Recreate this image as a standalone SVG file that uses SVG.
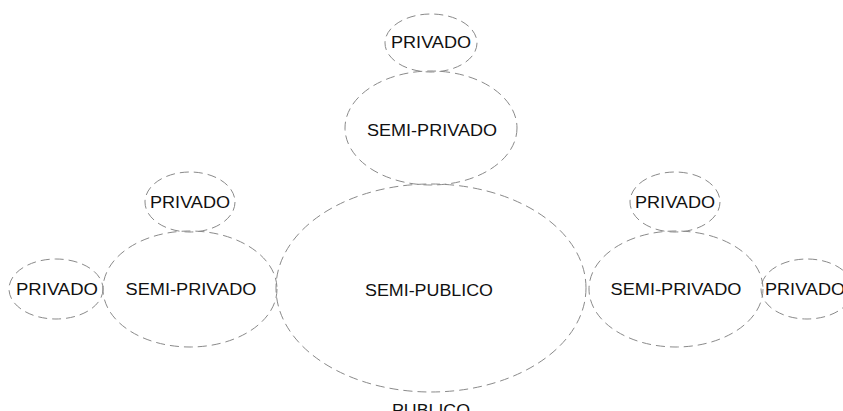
<svg xmlns="http://www.w3.org/2000/svg" width="843" height="411" viewBox="0 0 843 411">
<style>
.c{fill:none;stroke:#8a8a8a;stroke-width:1;stroke-dasharray:9 5}
text{font-family:"Liberation Sans",Arial,sans-serif;font-size:16px;fill:#111;text-anchor:middle}
</style>
<rect width="843" height="411" fill="#fff"/>
<g id="semi-publico"><ellipse class="c" cx="431" cy="288" rx="155" ry="104"/><text x="429" y="296" textLength="128" lengthAdjust="spacingAndGlyphs">SEMI-PUBLICO</text></g>
<g id="top-semi"><ellipse class="c" cx="431" cy="128" rx="86" ry="57"/><text x="432" y="136" textLength="130" lengthAdjust="spacingAndGlyphs">SEMI-PRIVADO</text></g>
<g id="top-priv"><ellipse class="c" cx="431" cy="43" rx="46" ry="29"/><text x="431" y="48" textLength="80" lengthAdjust="spacingAndGlyphs">PRIVADO</text></g>
<g id="left-semi"><ellipse class="c" cx="190" cy="289" rx="87" ry="58"/><text x="191" y="295" textLength="131" lengthAdjust="spacingAndGlyphs">SEMI-PRIVADO</text></g>
<g id="left-top-priv"><ellipse class="c" cx="190" cy="202" rx="45" ry="30"/><text x="190" y="208" textLength="80" lengthAdjust="spacingAndGlyphs">PRIVADO</text></g>
<g id="left-far-priv"><ellipse class="c" cx="56" cy="289" rx="47" ry="30"/><text x="57" y="295" textLength="82" lengthAdjust="spacingAndGlyphs">PRIVADO</text></g>
<g id="right-semi"><ellipse class="c" cx="676" cy="289" rx="87" ry="58"/><text x="676" y="295" textLength="131" lengthAdjust="spacingAndGlyphs">SEMI-PRIVADO</text></g>
<g id="right-top-priv"><ellipse class="c" cx="675" cy="202" rx="45" ry="30"/><text x="675" y="208" textLength="80" lengthAdjust="spacingAndGlyphs">PRIVADO</text></g>
<g id="right-far-priv"><ellipse class="c" cx="807" cy="289" rx="46" ry="30"/><text x="805" y="295" textLength="80" lengthAdjust="spacingAndGlyphs">PRIVADO</text></g>
<g id="publico"><text x="431" y="416" textLength="78" lengthAdjust="spacingAndGlyphs">PUBLICO</text></g>
<g id="connectors"></g>
</svg>
